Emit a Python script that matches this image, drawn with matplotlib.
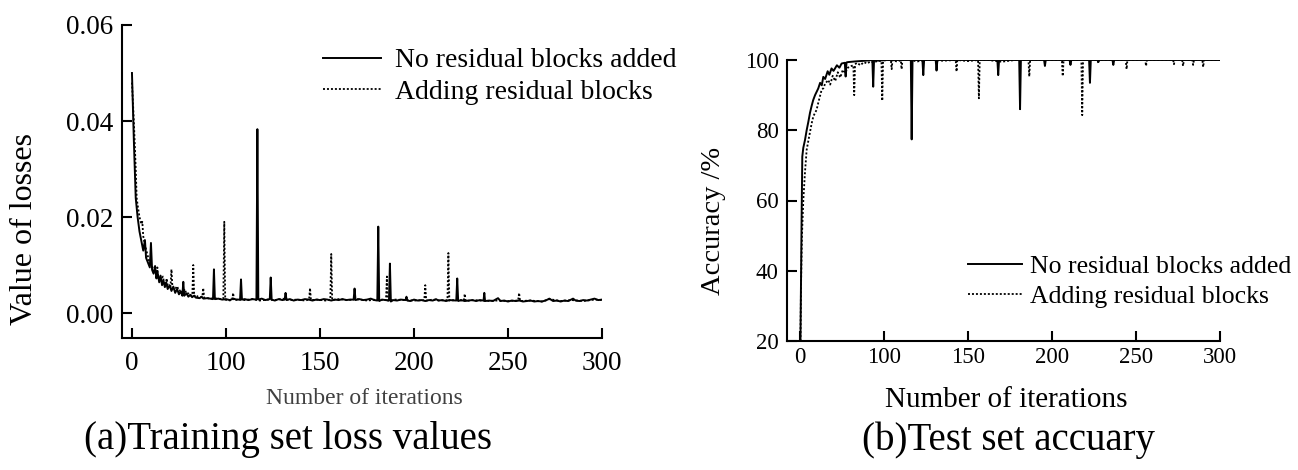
import matplotlib
matplotlib.use("Agg")
import matplotlib.pyplot as plt

plt.rcParams['font.family'] = ['Liberation Serif', 'DejaVu Serif']

# x positions of the ticks and the labels printed under them (same for both panels)
tick_pos = [0, 50, 100, 150, 200, 250]
tick_labels = ['0', '100', '150', '200', '250', '300']

label_plain = 'No residual blocks added'
label_res = 'Adding residual blocks'

# (a) training loss as (iteration, loss)
loss_plain = [
    (0, 0.050), (1, 0.036), (2, 0.024), (3, 0.020), (4, 0.017), (5, 0.015),
    (6, 0.013), (6.9, 0.0152), (7.5, 0.0115), (8.5, 0.0105), (9.5, 0.0095),
    (10.1, 0.0146), (10.7, 0.0090), (11.5, 0.0082), (12.3, 0.0098), (13, 0.0072),
    (13.6, 0.0085), (14.5, 0.0064), (15.2, 0.0078), (16, 0.0058), (16.7, 0.0068),
    (17.5, 0.0054), (18.2, 0.0064), (19, 0.0050), (20, 0.0058), (21, 0.0046),
    (22, 0.0055), (23, 0.0042), (24, 0.0050), (25, 0.0039), (26, 0.0045),
    (26.8, 0.0036), (27.3, 0.0065), (27.8, 0.0036), (29, 0.0041), (30, 0.0034),
    (31, 0.0038), (32, 0.0033), (33, 0.0036), (34, 0.0032), (36, 0.0031),
    (37, 0.0034), (38, 0.0030), (40, 0.0031), (43.1, 0.0029),
    (43.6, 0.0091), (44.1, 0.0029), (46, 0.0030), (48, 0.0028), (50, 0.0029),
    (52, 0.0027), (54, 0.0030), (55.5, 0.0028), (57.5, 0.0028), (58, 0.0070),
    (58.5, 0.0028), (60, 0.0029), (62, 0.0027), (64, 0.0029), (66.2, 0.0028),
    (66.7, 0.0383), (67.2, 0.0028), (69, 0.0030), (71, 0.0027), (73.3, 0.0029),
    (73.8, 0.0074), (74.3, 0.0028), (76, 0.0026), (78, 0.0029), (80, 0.0027),
    (81.2, 0.0028), (81.7, 0.0042), (82.2, 0.0027), (84, 0.0029), (86, 0.0026),
    (88, 0.0028), (90, 0.0027), (92, 0.0029), (94, 0.0028), (96, 0.0026),
    (98, 0.0028), (100, 0.0027), (102, 0.0029), (104, 0.0028), (106, 0.0026),
    (108, 0.0028), (110, 0.0027), (112, 0.0029), (114, 0.0027), (116, 0.0028),
    (117.9, 0.0028), (118.4, 0.0051), (118.9, 0.0027), (121, 0.0029), (123, 0.0027),
    (125, 0.0028), (127, 0.0030), (129, 0.0027), (130.5, 0.0026), (131, 0.0180),
    (131.5, 0.0025), (133, 0.0028), (135, 0.0027), (136.7, 0.0026), (137.2, 0.0103),
    (137.7, 0.0024), (139, 0.0027), (141, 0.0026), (143, 0.0028), (145.5, 0.0027),
    (146, 0.0034), (146.5, 0.0026), (148, 0.0025), (150, 0.0028), (152, 0.0026),
    (154, 0.0027), (156, 0.0025), (158, 0.0027), (160, 0.0026), (161.7, 0.0029),
    (163, 0.0026), (165, 0.0027), (167, 0.0025), (169, 0.0027), (172.5, 0.0026),
    (173, 0.0072), (173.5, 0.0025), (175, 0.0027), (177, 0.0025), (179, 0.0026),
    (181, 0.0027), (183, 0.0025), (185, 0.0027), (187, 0.0026), (187.4, 0.0042),
    (187.8, 0.0025), (190, 0.0026), (192, 0.0025), (194.7, 0.0031), (196, 0.0025),
    (198, 0.0026), (200, 0.0024), (202, 0.0026), (204, 0.0025), (206, 0.0026),
    (208, 0.0024), (210, 0.0025), (212, 0.0026), (214, 0.0024), (216, 0.0025),
    (218, 0.0024), (220, 0.0026), (222, 0.0030), (224, 0.0025), (226, 0.0026),
    (228, 0.0024), (230, 0.0026), (232, 0.0025), (234.6, 0.0030), (236, 0.0026),
    (238, 0.0025), (240, 0.0027), (242, 0.0026), (244, 0.0028), (246, 0.0030),
    (248, 0.0027), (250, 0.0028),
]

loss_res = [
    (0, 0.048), (1, 0.040), (2, 0.030), (2.5, 0.024), (3, 0.0225), (4, 0.020),
    (5, 0.0185), (5.5, 0.0190), (6, 0.016), (7, 0.014), (8, 0.0125), (9, 0.011),
    (10, 0.010), (11, 0.0095), (12, 0.0088), (13, 0.008), (13.5, 0.0095),
    (14, 0.0074), (15, 0.0070), (16.5, 0.0076), (17, 0.0064), (18, 0.0062),
    (18.5, 0.0072), (19, 0.0058), (20.5, 0.0055), (21, 0.0091), (21.5, 0.0054),
    (23, 0.0050), (24, 0.0056), (25, 0.0046), (26, 0.0048), (27, 0.0042),
    (28, 0.0050), (29, 0.0040), (30, 0.0041), (31, 0.0037), (32.1, 0.0036),
    (32.6, 0.0100), (33.1, 0.0035), (34, 0.0038), (35, 0.0034), (37.4, 0.0033),
    (37.9, 0.0052), (38.4, 0.0032), (40, 0.0031), (42, 0.0030), (44, 0.0031),
    (46, 0.0029), (48.6, 0.0030), (49.1, 0.0190), (49.6, 0.0028), (51, 0.0026),
    (53.3, 0.0027), (53.8, 0.0042), (54.3, 0.0026), (56, 0.0028), (60, 0.0027),
    (64, 0.0029), (68, 0.0026), (72, 0.0028), (76, 0.0027), (80, 0.0030),
    (84, 0.0027), (88, 0.0028), (92, 0.0026), (94.2, 0.0028), (94.7, 0.0052),
    (95.2, 0.0027), (99, 0.0028), (103, 0.0026), (105.5, 0.0028), (106, 0.0123),
    (106.5, 0.0027), (110, 0.0029), (115, 0.0027), (120, 0.0029), (125, 0.0026),
    (130, 0.0028), (135.1, 0.0027), (135.6, 0.0076), (136.1, 0.0026), (140, 0.0028),
    (145, 0.0027), (150, 0.0026), (155.5, 0.0027), (156, 0.0058), (156.5, 0.0026),
    (160, 0.0028), (164, 0.0026), (167.8, 0.0027), (168.3, 0.0125), (168.8, 0.0026),
    (172, 0.0027), (176.5, 0.0026), (177, 0.0040), (177.5, 0.0025), (182, 0.0027),
    (188, 0.0025), (194, 0.0026), (200, 0.0025), (205.4, 0.0026), (205.9, 0.0042),
    (206.4, 0.0025), (212, 0.0026), (218, 0.0024), (222, 0.0029), (228, 0.0025),
    (234, 0.0027), (240, 0.0025), (246, 0.0028), (250, 0.0027),
]

# (b) test accuracy in %
acc_plain = [
    (0, 20), (0.3, 20), (1.0, 55), (1.4, 72.5), (2, 75), (3, 77.2), (4, 80),
    (5, 82.4), (6, 85), (7, 87), (7.9, 88.6), (9, 90), (10, 91), (10.9, 91.9),
    (12, 93.5), (13, 92.8), (13.9, 95.2), (15, 94.6), (16.5, 96.8), (17.5, 95.8),
    (18.8, 97.6), (20, 96.9), (22, 98.5), (23.5, 97.8), (24.8, 99), (26.7, 99.2),
    (27.2, 95.3), (27.7, 99.3), (28.5, 99.4), (30.8, 99.5), (33, 99.6), (36, 99.7),
    (39, 99.8), (43.1, 100), (43.6, 92.4), (44.1, 100), (47, 99.8), (50, 100),
    (55, 100), (60, 100), (66, 100), (66.5, 77.4), (67, 100), (70, 100),
    (72.9, 100), (73.4, 95.7), (73.9, 100), (78, 100), (80.8, 100), (81.3, 97),
    (81.8, 100), (86, 100), (90, 100), (95, 100), (100, 100), (105, 100),
    (110, 100), (117.5, 100), (118, 95.7), (118.5, 100), (125, 100), (130.5, 100),
    (131, 86.0), (131.5, 100), (135, 100), (145.3, 100), (145.8, 98.3),
    (146.3, 100), (150, 100), (155, 100), (160.5, 100), (161, 98.6), (161.5, 100),
    (165, 100), (172.1, 100), (172.6, 93.5), (173.1, 100), (180, 100), (186, 100),
    (186.5, 98.6), (187, 100), (195, 100), (205, 100), (215, 100), (225, 100),
    (235, 100), (245, 100), (250, 100),
]

acc_res = [
    (0.3, 20), (0.6, 34.5), (1.2, 50), (2, 60), (3, 68), (4, 74.4), (5, 77),
    (6, 79.5), (7, 82), (8, 84), (9.9, 85.8), (11, 88), (12.9, 91.5), (14, 92),
    (15, 93.3), (16.9, 94.3), (18, 93), (19.5, 95.5), (21, 94), (22.5, 96.5),
    (24, 95), (25.5, 97.2), (27, 96.3), (28.5, 97.8), (30, 98.2), (31.8, 98.5),
    (32.3, 90.0), (32.8, 98.8), (34, 99.2), (36, 98.5), (38, 99.4), (40, 99.0),
    (42, 99.6), (44, 99.3), (46, 99.7), (48.5, 99.8), (49, 88.4), (49.5, 99.8),
    (52, 100), (54.1, 100), (54.6, 97.4), (55.1, 100), (58, 99.5), (60, 100),
    (60.5, 97.4), (61, 100), (65, 100), (70, 99.6), (75, 100), (80, 100),
    (85, 99.8), (92.7, 100), (93.2, 96.7), (93.7, 100), (100, 99.7), (106, 100),
    (106.5, 89.1), (107, 100), (112, 100), (120, 99.5), (128, 100), (136, 100),
    (136.5, 95.3), (137, 100), (145, 100), (150, 100), (155.9, 100), (156.4, 95.4),
    (156.9, 100), (162, 100), (167.5, 100), (168, 84.3), (168.5, 100), (172, 100),
    (177.1, 100), (177.6, 99.0), (178.1, 100), (185, 100), (193.9, 100),
    (194.4, 97.4), (194.9, 100), (200, 100), (205.5, 100), (206, 98.3),
    (206.5, 100), (215, 100), (222.1, 100), (222.6, 98.8), (223.1, 100),
    (227.5, 100), (228, 98.3), (228.5, 100), (233.5, 100), (234, 98.6),
    (234.5, 100), (239.5, 100), (240, 98.0), (240.5, 100), (245, 100), (250, 100),
]

W, H = 1298, 470
fig = plt.figure(figsize=(W / 100, H / 100), dpi=100)

ax1 = fig.add_axes([122 / W, 1 - 338 / H, 480 / W, 313 / H])
ax2 = fig.add_axes([787 / W, 1 - 341 / H, 433 / W, 281 / H])


def style_axes(ax, fs):
    for side in ['top', 'right']:
        ax.spines[side].set_visible(False)
    for side in ['left', 'bottom']:
        ax.spines[side].set_linewidth(1.5)
    ax.tick_params(direction='in', length=7, width=1.5, labelsize=fs)
    ax.set_xticks(tick_pos)
    ax.set_xticklabels(tick_labels)


x, y = zip(*loss_plain)
ax1.plot(x, y, color='black', lw=1.4, zorder=3, label=label_plain)
x, y = zip(*loss_res)
ax1.plot(x, y, color='black', lw=1.3, ls=(0, (1.1, 1.1)), zorder=2, label=label_res)
ax1.set_xlim(-5.3, 250)
ax1.set_ylim(-0.0052, 0.06)
ax1.set_yticks([0, 0.02, 0.04, 0.06])
ax1.set_yticklabels(['0.00', '0.02', '0.04', '0.06'])
style_axes(ax1, 19.5)
ax1.tick_params(axis='x', pad=9)
ax1.tick_params(axis='y', pad=6)
ax1.legend(loc='upper left', bbox_to_anchor=(323 / W, 1 - 48 / H),
           bbox_transform=fig.transFigure, frameon=False, fontsize=20,
           borderpad=0, borderaxespad=0, handlelength=2.1,
           handletextpad=0.5, labelspacing=0.22)

x, y = zip(*acc_plain)
ax2.plot(x, y, color='black', lw=1.4, zorder=3, label=label_plain)
x, y = zip(*acc_res)
ax2.plot(x, y, color='black', lw=1.3, ls=(0, (1.1, 1.1)), zorder=2, label=label_res)
ax2.set_xlim(-7.7, 250)
ax2.set_ylim(20, 100)
ax2.set_yticks([20, 40, 60, 80, 100])
style_axes(ax2, 16.5)
ax2.tick_params(axis='x', pad=4)
ax2.tick_params(axis='y', pad=6)
ax2.legend(loc='upper left', bbox_to_anchor=(968 / W, 1 - 255 / H),
           bbox_transform=fig.transFigure, frameon=False, fontsize=18.5,
           borderpad=0, borderaxespad=0, handlelength=2.1,
           handletextpad=0.3, labelspacing=0.29)

# axis titles and captions placed where they sit in the picture
fig.text(25 / W, 1 - 229 / H, 'Value of losses', rotation=90, fontsize=23,
         ha='center', va='center')
fig.text(364 / W, 1 - 399 / H, 'Number of iterations', fontsize=17,
         color='#404040', ha='center', va='center')
fig.text(713 / W, 1 - 221 / H, 'Accuracy /%', rotation=90, fontsize=20.5,
         ha='center', va='center')
fig.text(1006 / W, 1 - 400 / H, 'Number of iterations', fontsize=21,
         ha='center', va='center')
fig.text(288 / W, 1 - 440 / H, '(a)Training set loss values', fontsize=28,
         ha='center', va='center')
fig.text(1008 / W, 1 - 440 / H, '(b)Test set accuary', fontsize=28,
         ha='center', va='center')

fig.savefig('out.png', dpi=100)
